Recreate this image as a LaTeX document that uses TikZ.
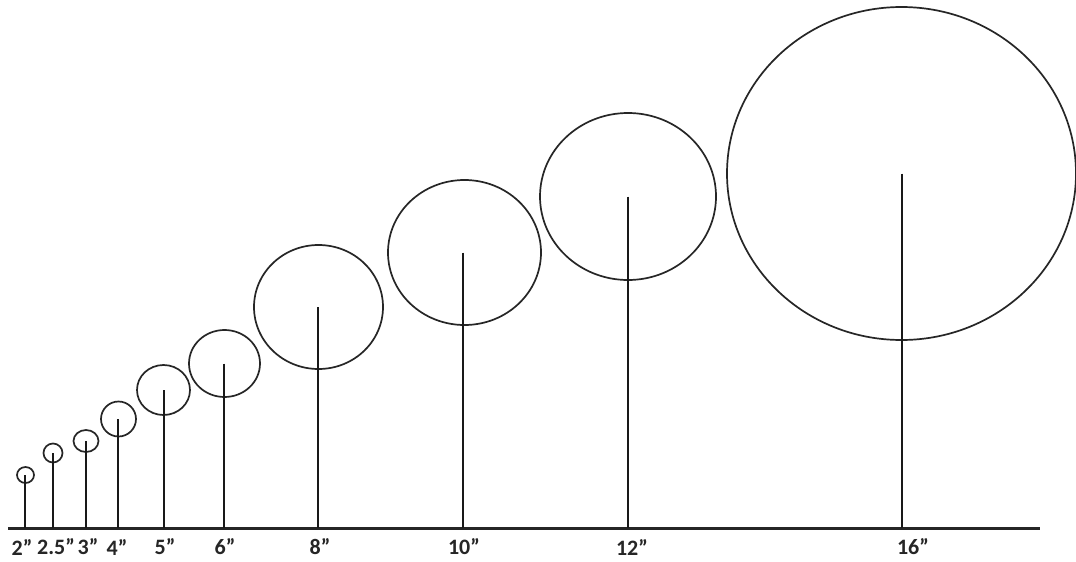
\documentclass[tikz,border=0pt]{standalone}
\usepackage{fontspec}
\setmainfont{Carlito}
\usetikzlibrary{shapes.geometric}
\begin{document}
\begin{tikzpicture}[x=1pt,y=-1pt,
  pot/.style={draw=black!85,line width=1.7pt,ellipse,inner sep=0pt,outer sep=0pt},
  stem/.style={draw=black!90,line width=2pt},
  thinstem/.style={draw=black!90,line width=1.4pt},
  lab/.style={anchor=center,font=\fontsize{22}{22}\selectfont\bfseries,text=black!85,inner sep=0pt}]
\useasboundingbox (0,0) rectangle (1076,562);
\fill[white] (0,0) rectangle (1076,562);
% circles
\node[pot,minimum width=17pt,minimum height=16pt] (c2) at (25.5,475) {};
\node[pot,minimum width=19pt,minimum height=19pt] (c25) at (53,453) {};
\node[pot,minimum width=25pt,minimum height=22pt] (c3) at (86,441) {};
\node[pot,minimum width=35pt,minimum height=35pt] (c4) at (118.5,419) {};
\node[pot,minimum width=53pt,minimum height=50pt] (c5) at (163.5,390) {};
\node[pot,minimum width=71pt,minimum height=67pt] (c6) at (224.5,363.5) {};
\node[pot,minimum width=129pt,minimum height=124pt] (c8) at (318.5,307) {};
\node[pot,minimum width=153pt,minimum height=145pt] (c10) at (464.5,252.5) {};
\node[pot,minimum width=176pt,minimum height=167pt] (c12) at (628,196.5) {};
\node[pot,minimum width=349pt,minimum height=333pt] (c16) at (901.5,173.5) {};
% baseline
\coordinate (L) at (8,528);
\coordinate (R) at (1040,528);
\draw[line width=3pt,black!85] (L) -- (R);
% stem feet
\coordinate (b2) at (25,528);
\coordinate (b25) at (53,528);
\coordinate (b3) at (86,528);
\coordinate (b4) at (118,528);
\coordinate (b5) at (164,528);
\coordinate (b6) at (224,528);
\coordinate (b8) at (318,528);
\coordinate (b10) at (463,528);
\coordinate (b12) at (628,528);
\coordinate (b16) at (902,528);
% stems
\draw[thinstem] (c2.center -| b2) -- (b2);
\draw[stem] (c25.center -| b25) -- (b25);
\draw[stem,line width=2.6pt] (c3.center -| b3) -- (b3);
\draw[stem,line width=2.6pt] (c4.center -| b4) -- (b4);
\draw[stem,line width=2.6pt] (c5.center -| b5) -- (b5);
\draw[thinstem] (c6.center -| b6) -- (b6);
\draw[stem,line width=2.6pt] (c8.center -| b8) -- (b8);
\draw[stem] (c10.center -| b10) -- (b10);
\draw[stem] (c12.center -| b12) -- (b12);
\draw[stem] (c16.center -| b16) -- (b16);
% labels
\node[lab] (l2) at (22,547) {2”};
\node[lab] (l25) at (56,547) {2.5”};
\node[lab] (l3) at (88,547) {3”};
\node[lab] (l4) at (117,547) {4”};
\node[lab] (l5) at (165,547) {5”};
\node[lab] (l6) at (225,547) {6”};
\node[lab] (l8) at (320,547) {8”};
\node[lab] (l10) at (464,547) {10”};
\node[lab] (l12) at (632,547) {12”};
\node[lab] (l16) at (913,547) {16”};
\end{tikzpicture}
\end{document}
